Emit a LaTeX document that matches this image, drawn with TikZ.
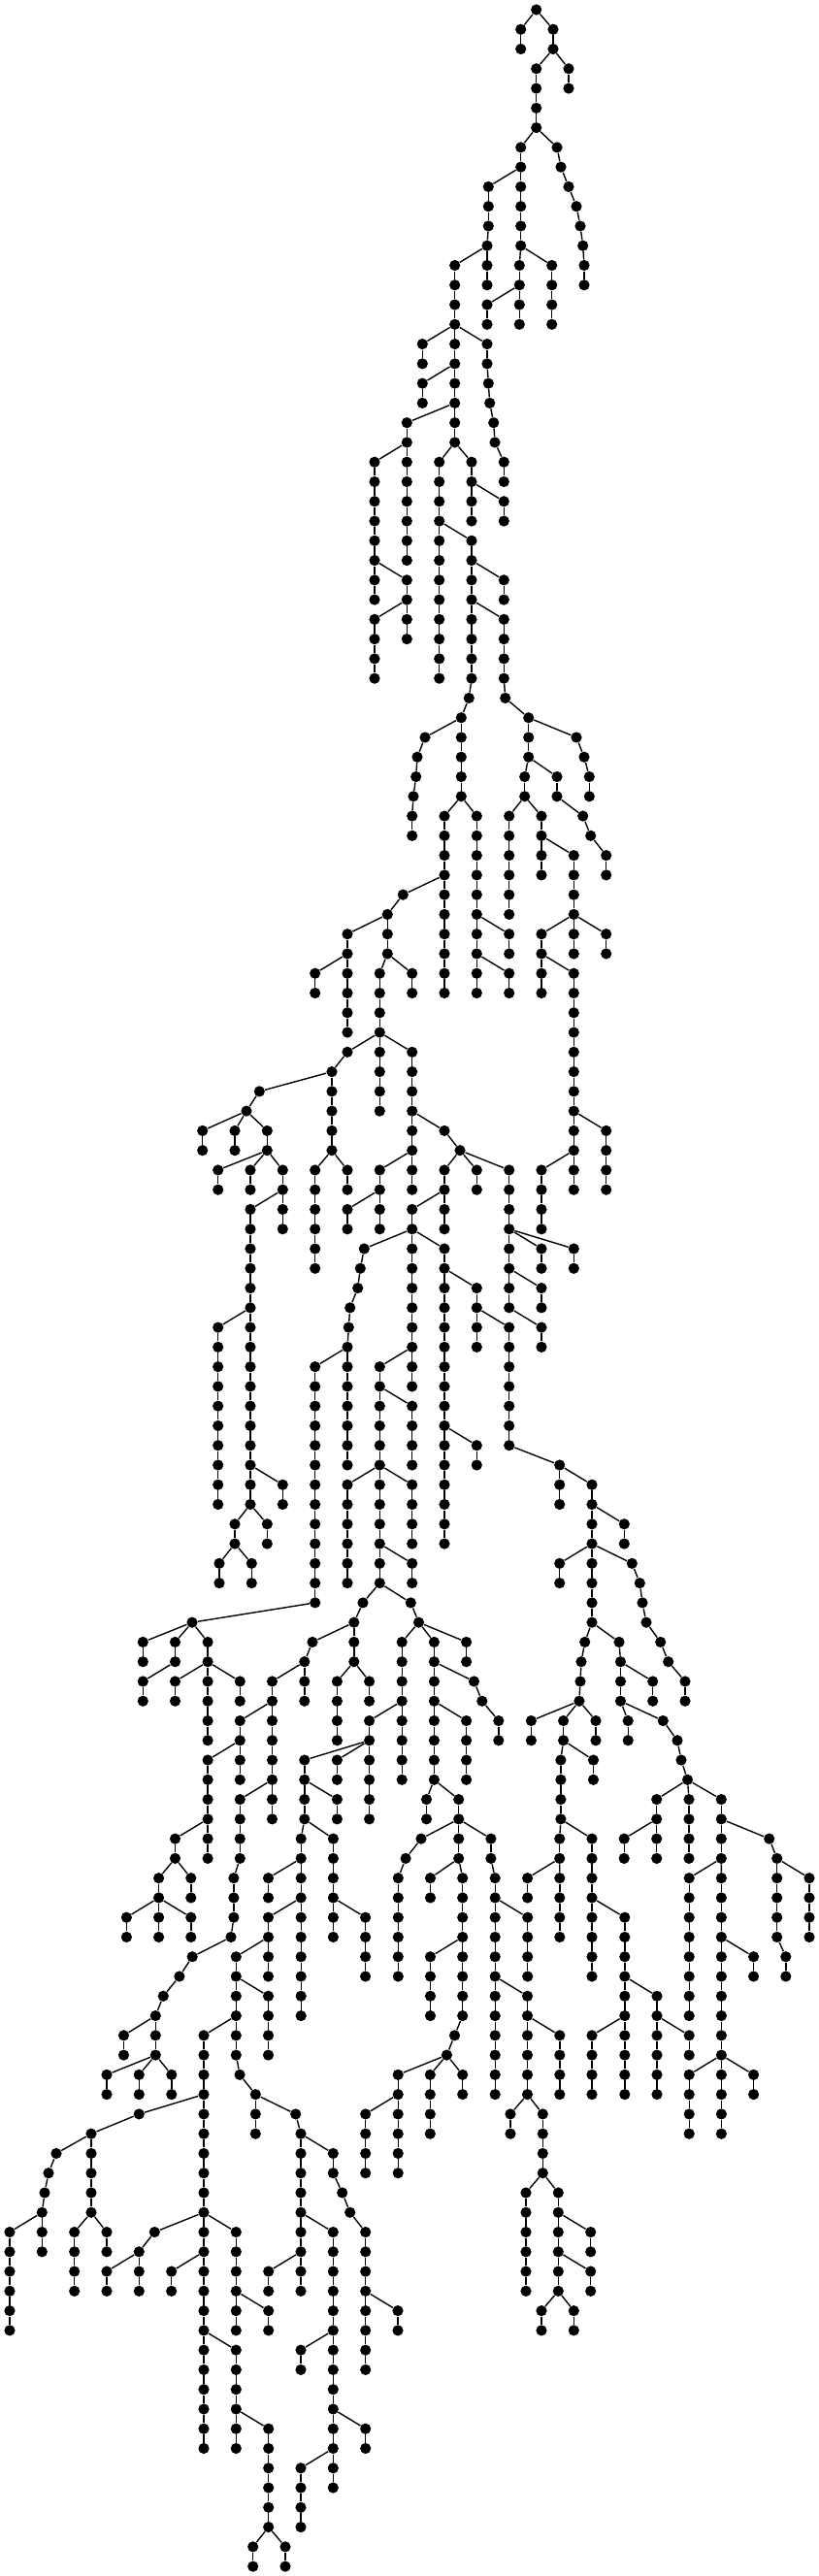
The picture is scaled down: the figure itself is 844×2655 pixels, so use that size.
\documentclass[tikz,border=0pt]{standalone}
\tikzset{
  dot/.style={circle,fill=black,draw=none,inner sep=0pt,minimum size=5.6pt},
  edge/.style={draw=black,line width=0.7pt}
}
% vertical chain: parent, prefix, x, first level, last level
\newcommand\Vc[5]{\xdef\prv{#1}\foreach \k in {#4,...,#5}{\node[dot] (#2\k) at (#3,{10+20.27*\k}) {};\draw[edge] (\prv) -- (#2\k);\xdef\prv{#2\k}}}
% slanted chain: parent, prefix, first level, list of x
\newcommand\Sc[4]{\xdef\prv{#1}\foreach \xx [count=\k from #3] in {#4}{\node[dot] (#2\k) at (\xx,{10+20.27*\k}) {};\draw[edge] (\prv) -- (#2\k);\xdef\prv{#2\k}}}
\begin{document}
\begin{tikzpicture}[x=0.5pt,y=-0.5pt]
\useasboundingbox (0,0) rectangle (844,2655);
\node[dot] (r0) at (552.7,10) {};
\Vc{r0}{a}{536.7}{1}{2}
\Vc{r0}{b}{570}{1}{2}
\Vc{b2}{c}{552.7}{3}{6}
\Vc{b2}{d}{586}{3}{4}
\Vc{c6}{e}{536.7}{7}{12}
\Sc{c6}{f}{7}{574,578,586,594,598,600.7,602,602}
\Vc{e8}{g}{503.3}{9}{11}
\Vc{g11}{g}{502}{12}{14}
\Vc{e12}{h}{535.3}{13}{16}
\Vc{e12}{i}{568.7}{13}{16}
\Vc{h14}{j}{502}{15}{16}
\Vc{g12}{k}{468.7}{13}{22}
\Vc{k16}{l}{435.3}{17}{18}
\Sc{k16}{m}{17}{502,502,503.3,504.7,508.7,510,519.3,519.3}
\Vc{k18}{n}{435.3}{19}{20}
\Vc{k20}{o}{419.3}{21}{28}
\Vc{o22}{p}{386}{23}{30}
\Vc{p28}{q}{419.3}{29}{32}
\Vc{q30}{s}{386}{31}{34}
\Vc{k22}{t}{452.7}{23}{34}
\Vc{k22}{v}{486}{23}{26}
\Vc{v24}{w}{519.3}{25}{26}
\Sc{t26}{u}{27}{486,486,486,486,486,486,486,486,483.3,475.3,475.3,475.3,475.3,475.3}
\Vc{u28}{x}{519.3}{29}{30}
\Sc{u30}{y}{31}{519.3,519.3,519.3,519.3,520.7,544.7,544.7,544.7}
\Sc{y36}{z}{37}{594,602,607.3,607.3}
\Sc{u36}{aa}{37}{438,430,428.7,426,424.7,424.7}
\Vc{u40}{ab}{458}{41}{50}
\Vc{u40}{ac}{491.3}{41}{50}
\Vc{ac46}{ad}{524.7}{47}{48}
\Vc{ac48}{ae}{524.7}{49}{50}
\Sc{ab44}{af}{45}{415.3,399.3,399.3,399.3}
\Vc{af46}{ag}{358}{47}{52}
\Vc{ag48}{ah}{324.7}{49}{50}
\Vc{af48}{ai}{391.3}{49}{52}
\Vc{ai52}{aj}{391.3}{53}{56}
\Vc{ai52}{ak}{424.7}{53}{58}
\Vc{af48}{al}{424.7}{49}{50}
\Sc{ai52}{am}{53}{358,342}
\Vc{am54}{an}{342}{55}{58}
\Vc{an58}{ao}{324.7}{59}{64}
\Vc{an58}{ap}{358}{59}{60}
\Sc{am54}{aq}{55}{267.3,254}
\Vc{aq56}{ar}{208.7}{57}{58}
\Vc{aq56}{as}{242}{57}{58}
\Vc{aq56}{at}{275.3}{57}{58}
\Vc{at58}{au}{224.7}{59}{60}
\Vc{at58}{av}{258}{59}{60}
\Vc{at58}{aw}{291.3}{59}{62}
\Vc{aw60}{ax}{258}{61}{76}
\Vc{ax66}{ay}{224.7}{67}{76}
\Vc{ax74}{az}{291.3}{75}{76}
\Vc{ax76}{ba}{275.3}{77}{78}
\Vc{ax76}{bb}{242}{77}{78}
\Vc{bb78}{bc}{226}{79}{80}
\Vc{bb78}{bd}{259.3}{79}{80}
\Vc{ak58}{be}{424.7}{59}{60}
\Vc{ak58}{bf}{391.3}{59}{60}
\Vc{bf60}{bg}{358}{61}{62}
\Vc{bf60}{bh}{391.3}{61}{62}
\Sc{ak56}{bi}{57}{458,474}
\Vc{bi58}{bj}{458}{59}{60}
\Vc{bj60}{bk}{424.7}{61}{62}
\Vc{bj60}{bl}{458}{61}{62}
\Vc{bi58}{bm}{491.3}{59}{60}
\Vc{bi58}{bn}{524.7}{59}{66}
\Vc{bn62}{bo}{558}{63}{64}
\Vc{bn62}{bp}{591.3}{63}{64}
\Vc{bn64}{bq}{558}{65}{66}
\Vc{bn66}{br}{558}{67}{68}
\Sc{bk62}{bs}{63}{375.3,371.3,368.7,360.7,359.3,358}
\Vc{bs68}{bt}{324.7}{69}{81}
\Vc{bt81}{jd}{198}{82}{82}
\Vc{jd82}{je}{147.3}{83}{84}
\Vc{jd82}{jf}{180.5}{83}{84}
\Vc{jd82}{jg}{214.1}{83}{84}
\Vc{jf84}{jh}{147.3}{85}{86}
\Vc{jg84}{ji}{180.5}{85}{86}
\Vc{jg84}{jj}{214.1}{85}{88}
\Vc{jg84}{jk}{247.3}{85}{86}
\Vc{bs68}{bu}{358}{69}{74}
\Vc{bk62}{bv}{424.7}{63}{68}
\Vc{bv68}{bw}{391.3}{69}{74}
\Vc{bv68}{bx}{424.7}{69}{70}
\Vc{bw70}{by}{424.7}{71}{74}
\Vc{bw74}{bz}{358}{75}{80}
\Vc{bw74}{ca}{424.7}{75}{78}
\Vc{bw74}{cb}{391.3}{75}{80}
\Vc{cb78}{cc}{424.7}{79}{80}
\Vc{bk62}{cd}{458}{63}{78}
\Vc{cd64}{ce}{491.3}{65}{68}
\Vc{ce66}{cf}{524.7}{67}{73}
\Vc{cd72}{cg}{491.3}{73}{74}
\Vc{cf73}{ch}{576.7}{74}{76}
\Vc{ch74}{ci}{610}{75}{78}
\Vc{ci76}{cj}{643.3}{77}{78}
\Vc{ci78}{ck}{576.7}{79}{80}
\Vc{ci78}{cl}{610}{79}{82}
\Sc{ci78}{cm}{79}{651.3,659.3,662,666,680.7,688.7,706,706}
\Sc{cl82}{cn}{83}{602.7,599,598,596.9}
\Vc{cn86}{co}{547.4}{87}{88}
\Vc{cn86}{cp}{614}{87}{88}
\Vc{cn86}{cq}{580.6}{87}{88}
\Vc{cq88}{cr}{577.9}{89}{92}
\Vc{cr92}{cs}{576.7}{93}{94}
\Vc{cq88}{ct}{611.5}{89}{90}
\Vc{cr92}{cu}{610}{93}{96}
\Vc{cu96}{cv}{610}{97}{100}
\Vc{cu96}{cw}{643.8}{97}{100}
\Vc{cw100}{cx}{643.8}{101}{102}
\Vc{cw100}{cy}{677}{101}{102}
\Vc{cx102}{cz}{610}{103}{106}
\Vc{cx102}{da}{643.8}{103}{106}
\Vc{cy102}{db}{677}{103}{106}
\Vc{cy102}{dc}{710.2}{103}{104}
\Vc{cs94}{dd}{543.6}{95}{96}
\Vc{cs94}{de}{576.8}{95}{98}
\Sc{cl82}{df}{83}{638,639.5,639.5,639.5}
\Vc{df84}{dg}{672.7}{85}{86}
\Vc{df86}{dh}{647.2}{87}{88}
\Sc{df86}{di}{87}{683.3,698,702,708.5}
\Vc{di90}{dj}{676.7}{91}{92}
\Vc{dj92}{dk}{643.2}{93}{94}
\Vc{dj92}{dl}{676.7}{93}{94}
\Vc{di90}{dm}{710}{91}{94}
\Vc{di90}{dn}{743.3}{91}{94}
\Sc{dn92}{do}{93}{792.7,800.7}
\Sc{do94}{dp}{95}{800.7,800.7,800.7,800.7,809.8,809.8}
\Vc{do94}{dq}{834}{95}{98}
\Vc{dn94}{dr}{710.2}{95}{102}
\Vc{dn94}{ds}{743.4}{95}{104}
\Vc{ds98}{dt}{776.6}{99}{100}
\Vc{ds104}{du}{710.2}{105}{108}
\Vc{ds104}{dv}{743.4}{105}{108}
\Vc{ds104}{dw}{776.6}{105}{106}
\Sc{cb80}{dx}{81}{374,364.8}
\Vc{dx82}{dy}{364.8}{83}{84}
\Vc{dy84}{dz}{347.4}{85}{88}
\Vc{dy84}{ea}{380.6}{85}{86}
\Sc{dx82}{eb}{83}{322,313.8}
\Vc{eb84}{ec}{313.8}{85}{86}
\Vc{eb84}{ed}{280.5}{85}{86}
\Vc{ed86}{ee}{247.3}{87}{88}
\Vc{ee88}{ef}{247.3}{89}{90}
\Vc{ee88}{eg}{214.1}{89}{92}
\Vc{eg92}{eh}{214.1}{93}{94}
\Vc{eg92}{ei}{180.5}{93}{94}
\Vc{ei94}{ej}{163.6}{95}{96}
\Vc{ei94}{ek}{196.8}{95}{96}
\Vc{ej96}{el}{130.4}{97}{98}
\Vc{ej96}{em}{163.6}{97}{98}
\Vc{ej96}{en}{196.8}{97}{98}
\Vc{ed86}{eo}{280.5}{87}{90}
\Vc{eo90}{ep}{280.5}{91}{92}
\Sc{eo90}{eq}{91}{247.3,247.3,247.3,247.3,240.9,240.9,240.9,238,198.2,184.9,168.3,160.3}
\Vc{eq102}{er}{127.5}{103}{104}
\Vc{eq102}{es}{160.3}{103}{104}
\Vc{es104}{et}{110}{105}{106}
\Vc{es104}{eu}{143.3}{105}{106}
\Vc{es104}{ev}{176.8}{105}{106}
\Sc{cb80}{ew}{81}{423.3,431.5}
\Vc{ew82}{ex}{480.6}{83}{84}
\Vc{ew82}{ey}{414.2}{83}{86}
\Vc{ey86}{ez}{414.2}{87}{90}
\Vc{ey86}{fa}{380.6}{87}{88}
\Vc{fa88}{fb}{347.4}{89}{90}
\Vc{fa88}{fc}{380.6}{89}{92}
\Vc{fa88}{fd}{313.8}{89}{90}
\Vc{fd90}{fe}{347.4}{91}{92}
\Vc{fd90}{ff}{313.8}{91}{92}
\Vc{ff92}{fg}{310.2}{93}{96}
\Vc{fg94}{fh}{276.5}{95}{96}
\Vc{fg96}{fi}{310.2}{97}{102}
\Vc{fg96}{fj}{276.5}{97}{98}
\Vc{fj98}{fk}{276.5}{99}{100}
\Vc{fj98}{fl}{243.3}{99}{100}
\Vc{fl100}{fm}{276.5}{101}{104}
\Vc{fl100}{fn}{243.3}{101}{102}
\Sc{fn102}{fo}{103}{243.3,243.3,247.1,263.3}
\Vc{fn102}{fp}{210}{103}{106}
\Vc{fo106}{fq}{263.3}{107}{108}
\Sc{fo106}{fr}{107}{304.7,310}
\Vc{fr108}{fs}{310}{109}{112}
\Vc{fs112}{ft}{310}{113}{114}
\Vc{ft114}{fu}{276.7}{115}{116}
\Vc{ft114}{fv}{310}{115}{116}
\Vc{fs112}{fw}{343.3}{113}{118}
\Sc{fr108}{fx}{109}{343.3,343.3,352.7,360.7,376.7}
\Vc{fx113}{fy}{376.7}{114}{116}
\Vc{fy116}{fz}{410}{117}{118}
\Vc{fy116}{ga}{376.7}{117}{120}
\Vc{fw118}{gb}{310}{119}{120}
\Vc{fw118}{gc}{343.3}{119}{124}
\Vc{gc122}{gd}{376.7}{123}{124}
\Vc{gc124}{ge}{310}{125}{128}
\Vc{gc124}{gf}{343.3}{125}{126}
\Sc{fp106}{gg}{107}{143.3,94}
\Sc{gg108}{gh}{109}{58,50,46,43.3}
\Vc{gh112}{gi}{10}{113}{118}
\Vc{gh112}{gj}{43.3}{113}{114}
\Vc{gg108}{gk}{94}{109}{112}
\Vc{gk112}{gl}{76.7}{113}{116}
\Vc{gk112}{gm}{110}{113}{114}
\Vc{fp106}{gn}{210}{107}{112}
\Sc{gn112}{go}{113}{159.3,143.3}
\Vc{go114}{gp}{110}{115}{116}
\Vc{go114}{gq}{143.3}{115}{116}
\Vc{gn112}{gr}{210}{113}{114}
\Vc{gr114}{gs}{176.7}{115}{116}
\Vc{gr114}{gt}{210}{115}{124}
\Vc{gt118}{gu}{243.3}{119}{124}
\Vc{gu122}{gv}{276.7}{123}{128}
\Vc{gv128}{gw}{260.7}{129}{130}
\Vc{gv128}{gx}{294}{129}{130}
\Vc{gn112}{gy}{243.3}{113}{116}
\Vc{gy116}{gz}{243.3}{117}{118}
\Vc{gy116}{ha}{276.7}{117}{118}
\Vc{ew82}{hb}{447.4}{83}{86}
\Sc{hb84}{hc}{85}{488.5,496.8,513.8,513.8}
\Vc{hb86}{hd}{480.6}{87}{90}
\Vc{hb86}{he}{447.4}{87}{90}
\Vc{he90}{hf}{439.5}{91}{92}
\Vc{he90}{hg}{472.7}{91}{92}
\Sc{hg92}{hh}{93}{434,418.1,410.3,410.3,410.3,410.3,410.3,410.3}
\Vc{hg92}{hi}{472.7}{93}{94}
\Vc{hi94}{hj}{443.5}{95}{96}
\Vc{hi94}{hk}{476.7}{95}{98}
\Vc{hk98}{hl}{443.5}{99}{102}
\Sc{hk98}{hm}{99}{476.7,476.7,476.7,476.7,468.5,460.4}
\Vc{hm104}{hn}{410.2}{105}{106}
\Vc{hn106}{ho}{376.7}{107}{110}
\Vc{hn106}{hp}{410.2}{107}{110}
\Vc{hm104}{hq}{443.3}{105}{108}
\Vc{hm104}{hr}{476.7}{105}{106}
\Sc{hg92}{hs}{93}{505.9,505.9,510.2,510.2,510.2,510.2,510.2,510.2}
\Vc{hs96}{ht}{543.7}{97}{100}
\Vc{hs100}{hu}{510.2}{101}{106}
\Vc{hs100}{hv}{543.5}{101}{102}
\Vc{hv102}{hw}{543.5}{103}{106}
\Vc{hv102}{hx}{576.8}{103}{106}
\Vc{hw106}{hy}{526}{107}{108}
\Vc{hw106}{hz}{559.3}{107}{110}
\Vc{hz110}{ia}{542}{111}{116}
\Vc{hz110}{ib}{575.3}{111}{112}
\Vc{ib112}{ic}{608.7}{113}{114}
\Vc{ib112}{id}{575.3}{113}{114}
\Vc{id114}{ie}{608.7}{115}{116}
\Vc{id114}{ih}{575.3}{115}{116}
\Vc{ih116}{ii}{558}{117}{118}
\Vc{ih116}{ij}{591.3}{117}{118}
\Sc{y38}{ik}{39}{540.7,540.7}
\Vc{ik40}{il}{524.7}{41}{46}
\Vc{ik40}{im}{558}{41}{44}
\Vc{im42}{io}{591.3}{43}{46}
\Vc{y38}{ip}{574}{39}{40}
\Sc{ip40}{iq}{41}{600.7,608.7,624.7,624.7}
\Vc{io46}{ir}{558}{47}{48}
\Vc{ir48}{is}{558}{49}{50}
\Vc{io46}{it}{624.7}{47}{48}
\Vc{io46}{iu}{591.3}{47}{48}
\Vc{ir48}{iv}{591.3}{49}{56}
\Vc{iv56}{iw}{591.3}{57}{58}
\Vc{iv56}{ix}{624.7}{57}{60}
\Vc{iw58}{iy}{558}{59}{62}
\Vc{iw58}{iz}{591.3}{59}{60}
\Vc{ff92}{ja}{343.4}{93}{96}
\Vc{ja96}{jb}{343.4}{97}{98}
\Vc{ja96}{jc}{376.6}{97}{100}
\end{tikzpicture}
\end{document}
